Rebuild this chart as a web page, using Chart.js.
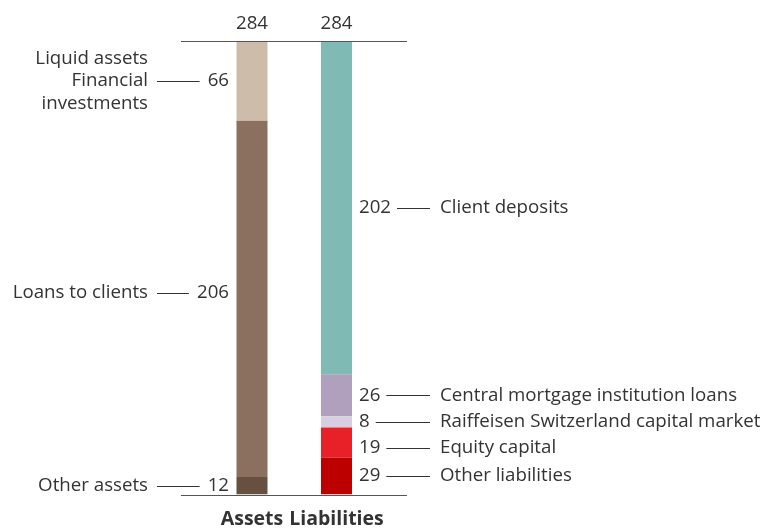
<!DOCTYPE html>
<html>
<head>
<meta charset="utf-8">
<script src="https://cdn.jsdelivr.net/npm/chart.js@4"></script>
<style>
  html, body { margin: 0; padding: 0; background: #fff; }
  #wrap { width: 769px; height: 528px; }
</style>
</head>
<body>
<div id="wrap"><canvas id="balanceChart" width="769" height="528"></canvas></div>
<script>
// Categories on the x axis
const categories = ['Assets', 'Liabilities'];
const totals = ['284', '284'];

// Assets, bottom to top (segment heights, printed numbers as shown)
const assetNames = [['Other assets'], ['Loans to clients'], ['Liquid assets', 'Financial', 'investments']];
const assetHeights = [11, 223, 50];
const assetPrinted = ['12', '206', '66'];
const assetColors = ['#685040', '#8b7060', '#cdbcaa'];

// Liabilities, bottom to top
const liabilityNames = ['Other liabilities', 'Equity capital', 'Raiffeisen Switzerland capital market', 'Central mortgage institution loans', 'Client deposits'];
const liabilityHeights = [23, 19, 7, 26, 209];
const liabilityPrinted = ['29', '19', '8', '26', '202'];
const liabilityColors = ['#bc0000', '#e82028', '#d8cee2', '#b0a0be', '#80bab4'];

const FONT = '"Open Sans", "Noto Sans", sans-serif';
const FONT_SIZE = 18.7;
const TEXT = '#333333';

// small vertical nudges for a couple of labels (px)
const labelNudge = { 'Loans to clients': -6, 'Equity capital': 5 };

// Build datasets
const datasets = [];
assetHeights.forEach((v, i) => {
  datasets.push({
    label: assetNames[i].join(' '),
    data: [v, null],
    backgroundColor: assetColors[i],
    side: 0,
    lines: assetNames[i],
    printed: assetPrinted[i],
  });
});
liabilityHeights.forEach((v, i) => {
  datasets.push({
    label: liabilityNames[i],
    data: [null, v],
    backgroundColor: liabilityColors[i],
    side: 1,
    lines: [liabilityNames[i]],
    printed: liabilityPrinted[i],
  });
});

// Plugin: axis lines, totals and the labelled leader lines
const annotations = {
  id: 'annotations',
  afterDatasetsDraw(chart) {
    const { ctx, chartArea, scales } = chart;
    ctx.save();

    // horizontal lines top and bottom
    ctx.strokeStyle = '#555';
    ctx.lineWidth = 1.2;
    [chartArea.top, chartArea.bottom].forEach((y) => {
      ctx.beginPath();
      ctx.moveTo(181, Math.round(y) + 0.5);
      ctx.lineTo(407, Math.round(y) + 0.5);
      ctx.stroke();
    });

    ctx.font = FONT_SIZE + 'px ' + FONT;
    ctx.fillStyle = TEXT;
    ctx.textBaseline = 'middle';

    // totals above the bars
    ctx.textAlign = 'center';
    categories.forEach((c, i) => {
      const x = scales.x.getPixelForValue(i);
      ctx.fillText(totals[i], x, chartArea.top - 17);
    });

    // segment labels
    ctx.strokeStyle = TEXT;
    ctx.lineWidth = 1;
    chart.data.datasets.forEach((ds, di) => {
      const el = chart.getDatasetMeta(di).data[ds.side];
      const y = (el.y + el.base) / 2 + (labelNudge[ds.label] || 0);
      const numW = ctx.measureText(ds.printed).width;
      const ly = Math.round(y) + 0.5;
      if (ds.side === 0) {
        ctx.textAlign = 'right';
        ctx.fillText(ds.printed, 229, y);
        ctx.beginPath();
        ctx.moveTo(157, ly);
        ctx.lineTo(229 - numW - 8, ly);
        ctx.stroke();
        const lh = 22.5;
        const y0 = y - ((ds.lines.length - 1) * lh) / 2;
        ds.lines.forEach((t, k) => ctx.fillText(t, 148, y0 + k * lh));
      } else {
        ctx.textAlign = 'left';
        ctx.fillText(ds.printed, 359, y);
        ctx.beginPath();
        ctx.moveTo(359 + numW + 6, ly);
        ctx.lineTo(430, ly);
        ctx.stroke();
        ctx.fillText(ds.lines[0], 440, y);
      }
    });
    ctx.restore();
  },
};

new Chart(document.getElementById('balanceChart'), {
  type: 'bar',
  data: { labels: categories, datasets },
  options: {
    responsive: false,
    devicePixelRatio: 1,
    animation: false,
    layout: { padding: { left: 209.75, right: 390.25, top: 41, bottom: 0 } },
    datasets: { bar: { barPercentage: 0.367, categoryPercentage: 1, borderWidth: 0 } },
    scales: {
      x: {
        stacked: true,
        grid: { display: false, drawTicks: false },
        border: { display: false },
        ticks: {
          color: TEXT,
          padding: 13,
          autoSkip: false,
          maxRotation: 0,
          minRotation: 0,
          font: { family: FONT, size: 19.5, weight: 'bold' },
        },
        afterFit: (scale) => { scale.height = 33.5; },
      },
      y: { stacked: true, display: false, min: 0, max: 284 },
    },
    plugins: {
      legend: { display: false },
      tooltip: { enabled: false },
    },
  },
  plugins: [annotations],
});
</script>
</body>
</html>
